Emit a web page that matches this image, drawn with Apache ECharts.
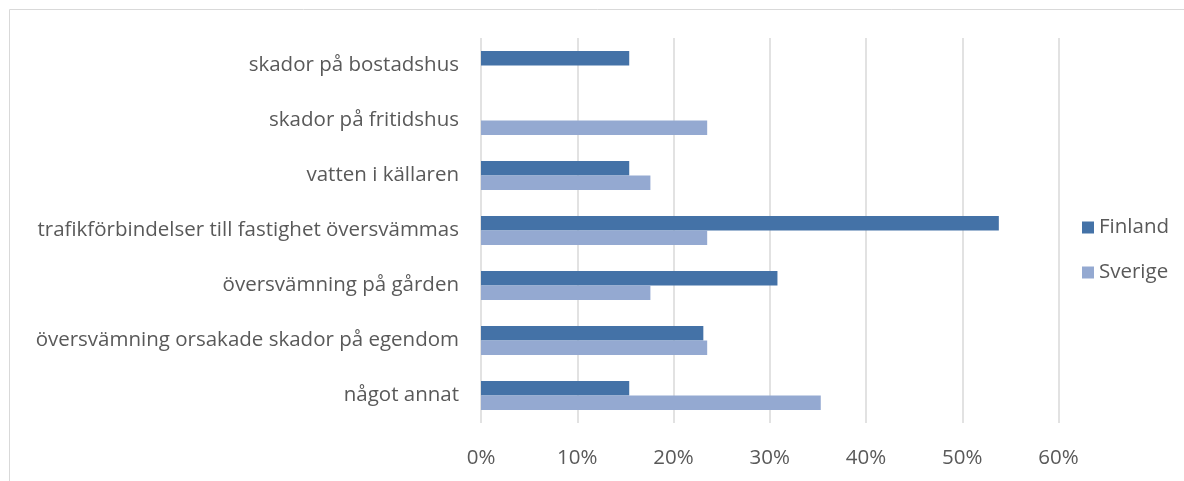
<!DOCTYPE html>
<html><head><meta charset="utf-8">
<script src="https://cdn.jsdelivr.net/npm/echarts@6/dist/echarts.min.js"></script>
<style>html,body{margin:0;padding:0;background:#fff}#c{width:1184px;height:481px}</style>
</head><body><div id="c"></div>
<script>
const categories = ["skador på bostadshus","skador på fritidshus","vatten i källaren","trafikförbindelser till fastighet översvämmas","översvämning på gården","översvämning orsakade skador på egendom","något annat"];
const finland = [15.4, null, 15.4, 53.8, 30.8, 23.1, 15.4];
const sverige = [null, 23.5, 17.6, 23.5, 17.6, 23.5, 35.3];
const seriesNames = ["Finland","Sverige"];
const font = "Open Sans";
const fs = 20.5;
const chart = echarts.init(document.getElementById('c'));
chart.setOption({
  animation:false,
  textStyle:{fontFamily:font},
  graphic:[{type:'rect',shape:{x:9.5,y:9.5,width:1200,height:500},style:{fill:'none',stroke:'#d9d9d9',lineWidth:1}}],
  grid:{left:481,right:125.5,top:38,bottom:58,containLabel:false},
  legend:{orient:'vertical',left:1077,top:212,itemWidth:12,itemHeight:12,itemGap:24,
    textStyle:{fontFamily:font,fontSize:fs,color:'#595959'},data:seriesNames,icon:'rect'},
  xAxis:{type:'value',min:0,max:60,interval:10,
    axisLabel:{formatter:'{value}%',fontFamily:font,fontSize:fs,color:'#595959',margin:25},
    axisLine:{show:false},axisTick:{show:false},
    splitLine:{lineStyle:{color:'#d9d9d9',width:1.5}}},
  yAxis:{type:'category',data:categories,inverse:true,
    axisLine:{show:false},axisTick:{show:false},
    axisLabel:{fontFamily:font,fontSize:fs,color:'#595959',margin:22,padding:[4,0,0,0]}},
  series:[
    {name:seriesNames[0],type:'bar',data:finland,itemStyle:{color:'#4472a7'},barGap:'0%',barCategoryGap:'47%'},
    {name:seriesNames[1],type:'bar',data:sverige,itemStyle:{color:'#94a9d1'},barGap:'0%',barCategoryGap:'47%'}
  ]
});
</script></body></html>
